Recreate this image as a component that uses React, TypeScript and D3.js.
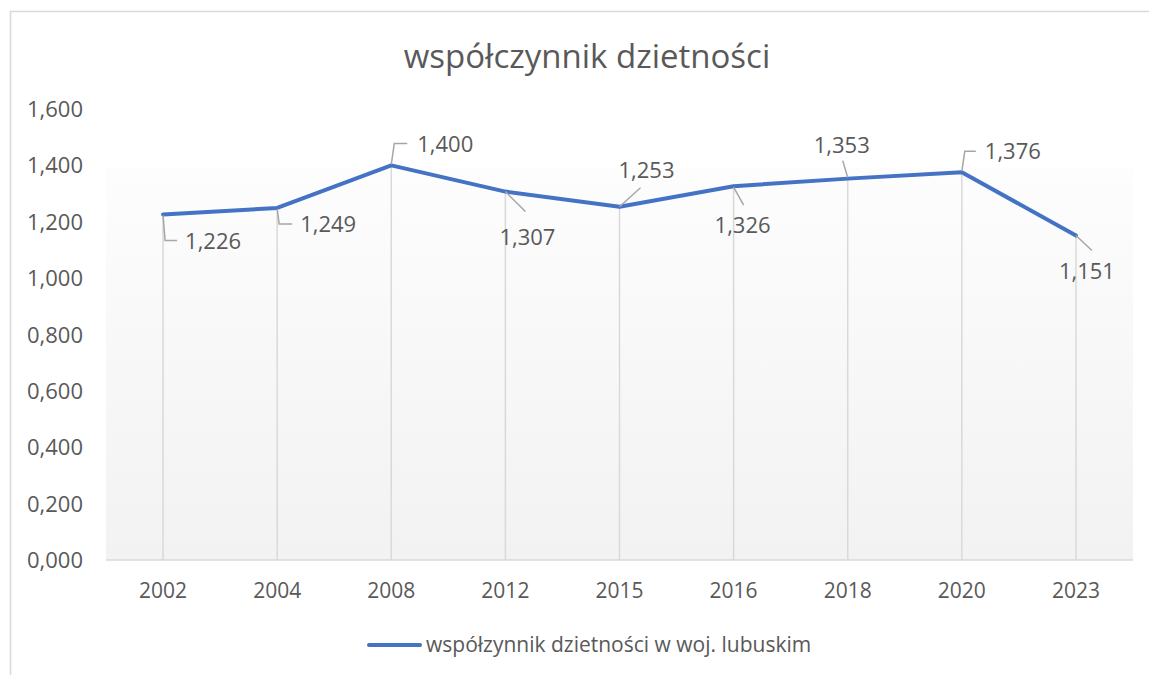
import * as d3 from 'd3';

const YEARS = ['2002', '2004', '2008', '2012', '2015', '2016', '2018', '2020', '2023'];
const TFR = [1.226, 1.249, 1.4, 1.307, 1.253, 1.326, 1.353, 1.376, 1.151];
const Y_TICKS = [0, 0.2, 0.4, 0.6, 0.8, 1.0, 1.2, 1.4, 1.6];

const TITLE = 'współczynnik dzietności';
const SERIES_NAME = 'współzynnik dzietności w woj. lubuskim';

// label placement relative to each point (layout only): text offset, anchor, leader polyline
const LABEL_LAYOUT: { dx: number; dy: number; anchor: string; leader: [number, number][] }[] = [
  { dx: 22, dy: 35, anchor: 'start', leader: [[0, 1], [2, 26], [14, 26]] },
  { dx: 23, dy: 24, anchor: 'start', leader: [[0, 1], [2, 16], [15, 16]] },
  { dx: 26, dy: -13, anchor: 'start', leader: [[0, -1], [3, -22], [16, -22]] },
  { dx: 22, dy: 53, anchor: 'middle', leader: [[0, 0], [20, 20]] },
  { dx: 27, dy: -29, anchor: 'middle', leader: [[0, 0], [21, -19]] },
  { dx: 9, dy: 47, anchor: 'middle', leader: [[0, 1], [10, 19]] },
  { dx: -6, dy: -26, anchor: 'middle', leader: [[-5, -18], [0, -1]] },
  { dx: 23, dy: -13, anchor: 'start', leader: [[0, -1], [3, -21], [14, -21]] },
  { dx: 11, dy: 43, anchor: 'middle', leader: [[0, 0], [16, 15]] },
];

const fmt = (v: number) => v.toFixed(3).replace('.', ',');
const fmtLabel = (v: number) => v.toFixed(3).replace('.', ',');

export default function App() {
  const W = 1149;
  const H = 675;
  const left = 106;
  const right = 1133;
  const top = 109;
  const bottom = 560;
  const font = "'Open Sans', sans-serif";
  const txt = '#595959';

  const x = d3.scalePoint<string>().domain(YEARS).range([left, right]).padding(0.5);
  const y = d3.scaleLinear().domain([0, 1.6]).range([bottom, top]);

  const pts = YEARS.map((yr, i) => ({ yr, v: TFR[i], px: x(yr) as number, py: y(TFR[i]) }));
  const line = d3.line<{ px: number; py: number }>().x((d) => d.px).y((d) => d.py);

  return (
    <div style={{ position: 'fixed', left: 0, top: 0 }}>
      <svg width={W} height={H} style={{ display: 'block', background: '#fff' }}>
        <defs>
          <linearGradient id="plotFill" x1="0" y1="0" x2="0" y2="1">
            <stop offset="0" stopColor="#ffffff" />
            <stop offset="0.13" stopColor="#ffffff" />
            <stop offset="0.132" stopColor="#fdfdfd" />
            <stop offset="1" stopColor="#f2f2f2" />
          </linearGradient>
        </defs>
        <rect x={10.5} y={11.5} width={1160} height={700} fill="#fff" stroke="#d9d9d9" strokeWidth={1.5} />
        <rect x={left} y={top} width={right - left} height={bottom - top} fill="url(#plotFill)" />

        <text x={587} y={68} textAnchor="middle" fontFamily={font} fontSize={33} fill={txt}>
          {TITLE}
        </text>

        {Y_TICKS.map((t) => (
          <text key={t} x={83} y={y(t) + 8} textAnchor="end" fontFamily={font} fontSize={22} fill={txt}>
            {fmt(t)}
          </text>
        ))}

        {pts.map((p) => (
          <line key={'drop' + p.yr} x1={p.px} x2={p.px} y1={p.py} y2={bottom} stroke="#d9d9d9" strokeWidth={1.5} />
        ))}
        <line x1={left} x2={right} y1={bottom} y2={bottom} stroke="#d9d9d9" strokeWidth={1.5} />

        {YEARS.map((yr) => (
          <text key={yr} x={x(yr)} y={598} textAnchor="middle" fontFamily={font} fontSize={21} fill={txt}>
            {yr}
          </text>
        ))}

        <path d={line(pts) || ''} fill="none" stroke="#4472c4" strokeWidth={4} strokeLinejoin="round" strokeLinecap="round" />

        {pts.map((p, i) => {
          const l = LABEL_LAYOUT[i];
          return (
            <g key={'lab' + p.yr}>
              <polyline
                points={l.leader.map(([a, b]) => `${p.px + a},${p.py + b}`).join(' ')}
                fill="none"
                stroke="#a6a6a6"
                strokeWidth={1.5}
              />
              <text x={p.px + l.dx} y={p.py + l.dy} textAnchor={l.anchor} fontFamily={font} fontSize={22} fill={txt}>
                {fmtLabel(p.v)}
              </text>
            </g>
          );
        })}

        <line x1={369} x2={420} y1={645} y2={645} stroke="#4472c4" strokeWidth={4} strokeLinecap="round" />
        <text x={426} y={652} fontFamily={font} fontSize={21} fill={txt}>
          {SERIES_NAME}
        </text>
      </svg>
    </div>
  );
}
